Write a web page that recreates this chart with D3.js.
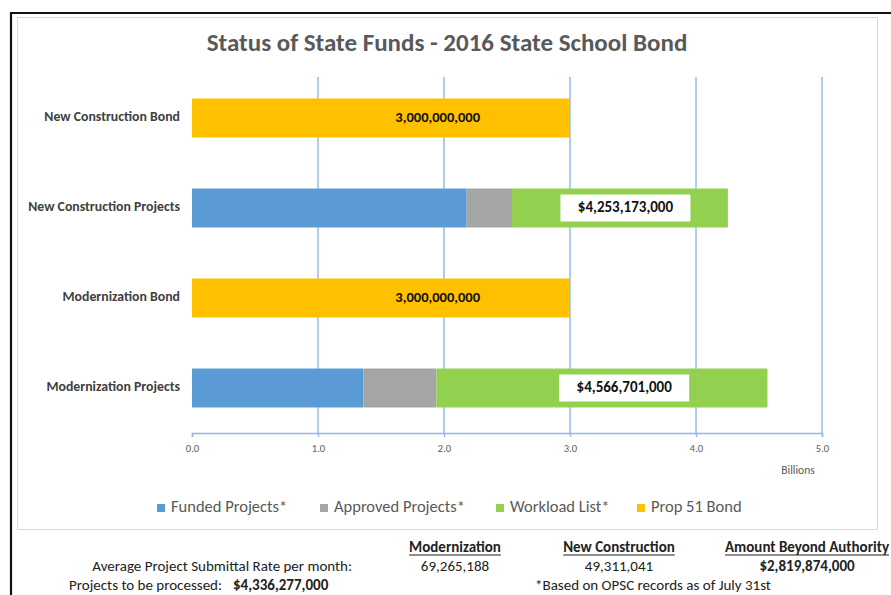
<!DOCTYPE html>
<html>
<head>
<meta charset="utf-8">
<script src="https://cdn.jsdelivr.net/npm/d3@7"></script>
<style>
  body { margin: 0; background: #fff; }
  text { font-family: Carlito, Calibri, Lato, "Open Sans", sans-serif; }
</style>
</head>
<body>
<div id="container"></div>
<script>
/* CONSTANTS AND GLOBALS */
const width = 891,
  height = 595,
  margin = { top: 73, bottom: 162, left: 192, right: 69 }

/* DATA */
const categories = ['New Construction Bond', 'New Construction Projects', 'Modernization Bond', 'Modernization Projects']
const funded = [0, 2.18, 0, 1.36]      // billions
const approved = [0, 0.36, 0, 0.58]
const workload = [0, 1.713, 0, 2.627]
const bond = [3.0, 0, 3.0, 0]
const valueLabels = ['3,000,000,000', '$4,253,173,000', '3,000,000,000', '$4,566,701,000']
const labelAt = [1.95, 3.44, 1.95, 3.43]  // label centre, billions
const tickValues = [0, 1, 2, 3, 4, 5]

const legendItems = [
  { key: 'funded', color: '#5b9bd5', text: 'Funded Projects*' },
  { key: 'approved', color: '#a5a5a5', text: 'Approved Projects*' },
  { key: 'workload', color: '#92d050', text: 'Workload List*' },
  { key: 'bond', color: '#ffc000', text: 'Prop 51 Bond' }
]

const rows = categories.map((c, i) => ({
  category: c,
  funded: funded[i],
  approved: approved[i],
  workload: workload[i],
  bond: bond[i]
}))

const svg = d3.select('#container')
  .append('svg')
  .attr('width', width)
  .attr('height', height)

// outer frame
svg.append('path')
  .attr('d', `M11,${height} L11,13 L${width},13`)
  .attr('fill', 'none')
  .attr('stroke', '#111')
  .attr('stroke-width', 2.2)

// chart area box
svg.append('rect')
  .attr('x', 17.5).attr('y', 17.5)
  .attr('width', 860).attr('height', 512)
  .attr('fill', '#fff')
  .attr('stroke', '#d9d9d9')

// title
svg.append('text')
  .attr('x', 447).attr('y', 51)
  .attr('text-anchor', 'middle')
  .style('font-size', '25px')
  .style('font-weight', 'bold')
  .attr('fill', '#595959')
  .text('Status of State Funds - 2016 State School Bond')

// scales
const xScale = d3.scaleLinear()
  .domain([0, 5])
  .range([margin.left, width - margin.right])

const yScale = d3.scaleBand()
  .domain(categories)
  .range([margin.top, height - margin.bottom])
  .paddingInner(0.567)
  .paddingOuter(0.2835)

// gridlines
svg.append('g')
  .selectAll('line')
  .data(tickValues.slice(1))
  .join('line')
  .attr('x1', d => xScale(d)).attr('x2', d => xScale(d))
  .attr('y1', 77).attr('y2', height - margin.bottom)
  .attr('stroke', '#8db8e8')
  .attr('stroke-width', 1.4)

// x axis
const xAxis = d3.axisBottom(xScale)
  .tickValues(tickValues)
  .tickFormat(d3.format('.1f'))
  .tickSize(4)
  .tickPadding(8)

const gx = svg.append('g')
  .attr('transform', `translate(0, ${height - margin.bottom})`)
  .call(xAxis)
gx.select('.domain').attr('stroke', '#8db8e8').attr('stroke-width', 1.4)
gx.selectAll('.tick line').attr('stroke', '#8db8e8').attr('stroke-width', 1.4)
gx.selectAll('.tick text')
  .attr('fill', '#595959')
  .style('font-size', '10.5px')
  .style('font-family', 'Carlito, Calibri, Lato, sans-serif')

svg.append('text')
  .attr('x', xScale(5) - 24).attr('y', 474)
  .attr('text-anchor', 'middle')
  .style('font-size', '11.5px')
  .attr('fill', '#595959')
  .text('Billions')

// category labels
svg.append('g')
  .selectAll('text')
  .data(categories)
  .join('text')
  .attr('x', 180)
  .attr('y', d => yScale(d) + yScale.bandwidth() / 2)
  .attr('text-anchor', 'end')
  .attr('dominant-baseline', 'middle')
  .style('font-size', '13.8px')
  .style('font-weight', 'bold')
  .attr('fill', '#404040')
  .text(d => d)

// stacked bars
const stack = d3.stack().keys(legendItems.map(d => d.key))
const series = stack(rows)
const colorScale = d3.scaleOrdinal()
  .domain(legendItems.map(d => d.key))
  .range(legendItems.map(d => d.color))

svg.append('g')
  .selectAll('g')
  .data(series)
  .join('g')
  .attr('fill', d => colorScale(d.key))
  .selectAll('rect')
  .data(d => d.filter(s => s[1] > s[0]))
  .join('rect')
  .attr('x', d => xScale(d[0]))
  .attr('width', d => xScale(d[1]) - xScale(d[0]))
  .attr('y', d => yScale(d.data.category))
  .attr('height', yScale.bandwidth())

// value labels
const labels = svg.append('g')
  .selectAll('g')
  .data(categories.map((c, i) => ({ category: c, text: valueLabels[i], at: labelAt[i], boxed: bond[i] === 0 })))
  .join('g')
  .attr('transform', d => `translate(${xScale(d.at)}, ${yScale(d.category) + yScale.bandwidth() / 2})`)

labels.filter(d => d.boxed)
  .append('rect')
  .attr('x', -65).attr('y', -13.5)
  .attr('width', 130).attr('height', 27)
  .attr('fill', '#fff')

labels.append('text')
  .attr('text-anchor', 'middle')
  .attr('dominant-baseline', 'middle')
  .style('font-size', d => d.boxed ? '15px' : '14.5px')
  .style('font-weight', 'bold')
  .attr('fill', '#111')
  .text(d => d.text)

// legend
const legendX = [157, 320, 496, 637]
const legend = svg.append('g')
  .selectAll('g')
  .data(legendItems)
  .join('g')
  .attr('transform', (d, i) => `translate(${legendX[i]}, 508)`)

legend.append('rect')
  .attr('x', 0).attr('y', -4)
  .attr('width', 8).attr('height', 8)
  .attr('fill', d => d.color)

legend.append('text')
  .attr('x', 14)
  .attr('dominant-baseline', 'middle')
  .style('font-size', '16.5px')
  .attr('fill', '#595959')
  .text(d => d.text)

// footer table
const footer = svg.append('g').attr('fill', '#222').style('font-size', '15px')

const headers = [
  { x: 455, text: 'Modernization' },
  { x: 619, text: 'New Construction' },
  { x: 807, text: 'Amount Beyond Authority' }
]
const footerValues = [
  { x: 455, text: '69,265,188', bold: false },
  { x: 619, text: '49,311,041', bold: false },
  { x: 807, text: '$2,819,874,000', bold: true }
]

headers.forEach(h => {
  const t = footer.append('text')
    .attr('x', h.x).attr('y', 552)
    .attr('text-anchor', 'middle')
    .style('font-weight', 'bold')
    .text(h.text)
  const w = t.node().getComputedTextLength()
  footer.append('line')
    .attr('x1', h.x - w / 2).attr('x2', h.x + w / 2)
    .attr('y1', 555).attr('y2', 555)
    .attr('stroke', '#222')
})

footerValues.forEach(v => {
  footer.append('text')
    .attr('x', v.x).attr('y', 571)
    .attr('text-anchor', 'middle')
    .style('font-weight', v.bold ? 'bold' : 'normal')
    .text(v.text)
})

footer.append('text')
  .attr('x', 352).attr('y', 571)
  .attr('text-anchor', 'end')
  .text('Average Project Submittal Rate per month:')

footer.append('text')
  .attr('x', 222).attr('y', 590)
  .attr('text-anchor', 'end')
  .text('Projects to be processed:')

footer.append('text')
  .attr('x', 233).attr('y', 590)
  .style('font-weight', 'bold')
  .text('$4,336,277,000')

footer.append('text')
  .attr('x', 535).attr('y', 590)
  .text('*Based on OPSC records as of July 31st')
</script>
</body>
</html>
